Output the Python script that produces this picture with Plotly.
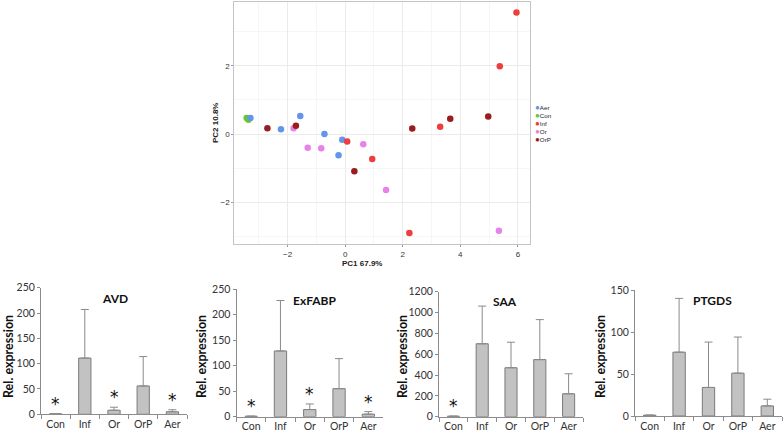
import plotly.graph_objects as go

W, H = 784, 435

# ---------------- PCA data ----------------
pc_groups = ["Aer", "Con", "Inf", "Or", "OrP"]
pc_colors = {"Aer": "#6495ed", "Con": "#66c72a", "Inf": "#ef3d3d", "Or": "#e882e8", "OrP": "#9b1c1c"}
aer_x = [-3.29, -2.23, -1.56, -0.72, -0.10, -0.23]
aer_y = [0.47, 0.14, 0.53, 0.00, -0.17, -0.62]
con_x = [-3.42, -3.36]
con_y = [0.47, 0.42]
inf_x = [5.95, 5.37, 3.30, 0.07, 0.94, 2.23]
inf_y = [3.56, 1.99, 0.21, -0.22, -0.73, -2.90]
or_x = [-1.79, -1.30, -0.83, 0.63, 1.42, 5.34]
or_y = [0.17, -0.40, -0.42, -0.30, -1.64, -2.84]
orp_x = [-2.70, -1.71, 0.32, 2.33, 3.65, 4.97]
orp_y = [0.17, 0.24, -1.09, 0.16, 0.45, 0.51]
pc_x_title = "PC1 67.9%"
pc_y_title = "PC2 10.8%"

# ---------------- Bar data ----------------
categories = ["Con", "Inf", "Or", "OrP", "Aer"]
genes = ["AVD", "ExFABP", "SAA", "PTGDS"]
avd_mean = [1, 111, 8, 56, 5]
avd_upper = [None, 207, 14, 114, 9]
avd_sig = [1, 0, 1, 0, 1]
exfabp_mean = [1, 129, 14, 55, 5]
exfabp_upper = [None, 228, 25, 114, 10]
exfabp_sig = [1, 0, 1, 0, 1]
saa_mean = [5, 700, 470, 548, 220]
saa_upper = [None, 1062, 715, 932, 412]
saa_sig = [1, 0, 0, 0, 0]
ptgds_mean = [1, 76, 34, 51, 12]
ptgds_upper = [None, 140, 88, 94, 20]
ptgds_sig = [0, 0, 0, 0, 0]
y_max = [250, 250, 1200, 150]
y_dtick = [50, 50, 200, 50]
bar_y_title = "Rel. expression"

means = [avd_mean, exfabp_mean, saa_mean, ptgds_mean]
uppers = [avd_upper, exfabp_upper, saa_upper, ptgds_upper]
sigs = [avd_sig, exfabp_sig, saa_sig, ptgds_sig]


def px_x(p):
    return p / W


def px_y(p):
    return 1 - p / H


fig = go.Figure()

# scatter traces (Con first so Aer sits on top)
pc_data = {"Aer": (aer_x, aer_y), "Con": (con_x, con_y), "Inf": (inf_x, inf_y),
           "Or": (or_x, or_y), "OrP": (orp_x, orp_y)}
for g in ["Con", "Aer", "Inf", "Or", "OrP"]:
    xs, ys = pc_data[g]
    fig.add_trace(go.Scatter(x=xs, y=ys, mode="markers", name=g, showlegend=False,
                             marker=dict(size=6.5, color=pc_colors[g]),
                             xaxis="x", yaxis="y"))

SC_FONT = "Liberation Sans, Arial, sans-serif"
fig.update_layout(
    xaxis=dict(domain=[px_x(234.3), px_x(530)], range=[-3.85, 6.42], dtick=2, tick0=0,
               showgrid=True, gridcolor="#ebebeb", gridwidth=1, zeroline=False,
               showline=True, mirror=True, linecolor="#c4c4c4", linewidth=1,
               ticks="outside", ticklen=2, tickcolor="#999999", automargin=False,
               tickfont=dict(family=SC_FONT, size=8, color="#333333"),
               minor=dict(dtick=1, showgrid=True, gridcolor="#f6f6f6", gridwidth=1),
               anchor="y"),
    yaxis=dict(domain=[px_y(244), px_y(1.7)], range=[-3.226, 3.88], dtick=2, tick0=0,
               showgrid=True, gridcolor="#ebebeb", gridwidth=1, zeroline=False,
               showline=True, mirror=True, linecolor="#c4c4c4", linewidth=1,
               ticks="outside", ticklen=2, tickcolor="#999999", automargin=False,
               tickfont=dict(family=SC_FONT, size=8, color="#333333"),
               minor=dict(dtick=1, showgrid=True, gridcolor="#f6f6f6", gridwidth=1),
               anchor="x"),
)

annotations = []
annotations.append(dict(text="<b>" + pc_x_title + "</b>", x=px_x(362), y=px_y(263.5),
                        xref="paper", yref="paper", showarrow=False,
                        xanchor="center", yanchor="middle",
                        font=dict(family=SC_FONT, size=8, color="#222222")))
annotations.append(dict(text="<b>" + pc_y_title + "</b>", x=px_x(215), y=px_y(123),
                        xref="paper", yref="paper", showarrow=False, textangle=-90,
                        xanchor="center", yanchor="middle",
                        font=dict(family=SC_FONT, size=8, color="#222222")))
# legend (one block of text, one line per group)
legend_lines = ['<span style="color:%s;font-size:8px">●</span>%s' % (pc_colors[g], g)
                for g in pc_groups]
annotations.append(dict(
    text="<br>".join(legend_lines), align="left",
    x=px_x(533), y=px_y(123), xref="paper", yref="paper",
    xanchor="left", yanchor="middle", showarrow=False,
    font=dict(family=SC_FONT, size=6.2, color="#222222")))

# ---------------- bar charts ----------------
BAR_FONT = "Lato, Carlito, sans-serif"
x_doms = [(41.0, 187.0), (236.5, 383.0), (439.0, 583.0), (635.0, 782.0)]
y_doms = [(414.3, 287.7), (416.7, 289.3), (416.7, 291.7), (416.0, 290.0)]
title_pos = [(115, 298), (314, 300), (505, 301), (712, 300)]
ytitle_x = [8, 201, 402, 600]

for k in range(4):
    xa = "x%d" % (k + 2)
    ya = "y%d" % (k + 2)
    m = means[k]
    up = uppers[k]
    err = [None if u is None else u - v for u, v in zip(up, m)]
    fig.add_trace(go.Bar(
        x=categories, y=m, xaxis=xa, yaxis=ya, width=0.42, showlegend=False,
        marker=dict(color="#c2c2c2", line=dict(color="#7a7a7a", width=1)),
        error_y=dict(type="data", symmetric=False, array=err,
                     arrayminus=[0] * len(m), color="#8a8a8a", thickness=1, width=4),
    ))
    x0, x1 = x_doms[k]
    yb, yt = y_doms[k]
    fig.layout["xaxis%d" % (k + 2)] = dict(
        domain=[px_x(x0), px_x(x1)], anchor=ya, type="category", range=[-0.5, 4.5],
        showline=True, linecolor="#8c8c8c", linewidth=1, showgrid=False, automargin=False,
        ticks="outside", tickson="boundaries", ticklen=4, tickcolor="#8c8c8c",
        tickfont=dict(family=BAR_FONT, size=10.5, color="#333333"))
    fig.layout["yaxis%d" % (k + 2)] = dict(
        domain=[px_y(yb), px_y(yt)], anchor=xa, range=[0, y_max[k]], dtick=y_dtick[k],
        showline=True, linecolor="#8c8c8c", linewidth=1, showgrid=False, zeroline=False,
        ticks="outside", ticklen=3, tickcolor="#8c8c8c", automargin=False,
        tickfont=dict(family=BAR_FONT, size=10.5, color="#333333"))
    tx, ty = title_pos[k]
    annotations.append(dict(text="<b>" + genes[k] + "</b>", x=px_x(tx), y=px_y(ty),
                            xref="paper", yref="paper", showarrow=False,
                            xanchor="center", yanchor="middle",
                            font=dict(family=BAR_FONT, size=12, color="#111111")))
    annotations.append(dict(text="<b>" + bar_y_title + "</b>", x=px_x(ytitle_x[k]),
                            y=px_y(357), xref="paper", yref="paper", showarrow=False,
                            textangle=-90, xanchor="center", yanchor="middle",
                            font=dict(family=BAR_FONT, size=12.5, color="#111111")))
    for c, v, u, s in zip(categories, m, up, sigs[k]):
        if s:
            top = v if u is None else u
            annotations.append(dict(text="*", x=c, y=top, xref=xa, yref=ya,
                                    xanchor="center", yanchor="middle", yshift=10,
                                    showarrow=False,
                                    font=dict(family="DejaVu Sans, sans-serif", size=17,
                                              color="#111111")))

fig.update_layout(
    annotations=annotations,
    width=W, height=H, autosize=False,
    margin=dict(l=0, r=0, t=0, b=0, autoexpand=False),
    paper_bgcolor="white", plot_bgcolor="white",
    bargap=0.5,
)

fig.write_html("out.html", config={"displayModeBar": False},
               post_script="document.body.style.margin='0';document.body.style.overflow='hidden';")
